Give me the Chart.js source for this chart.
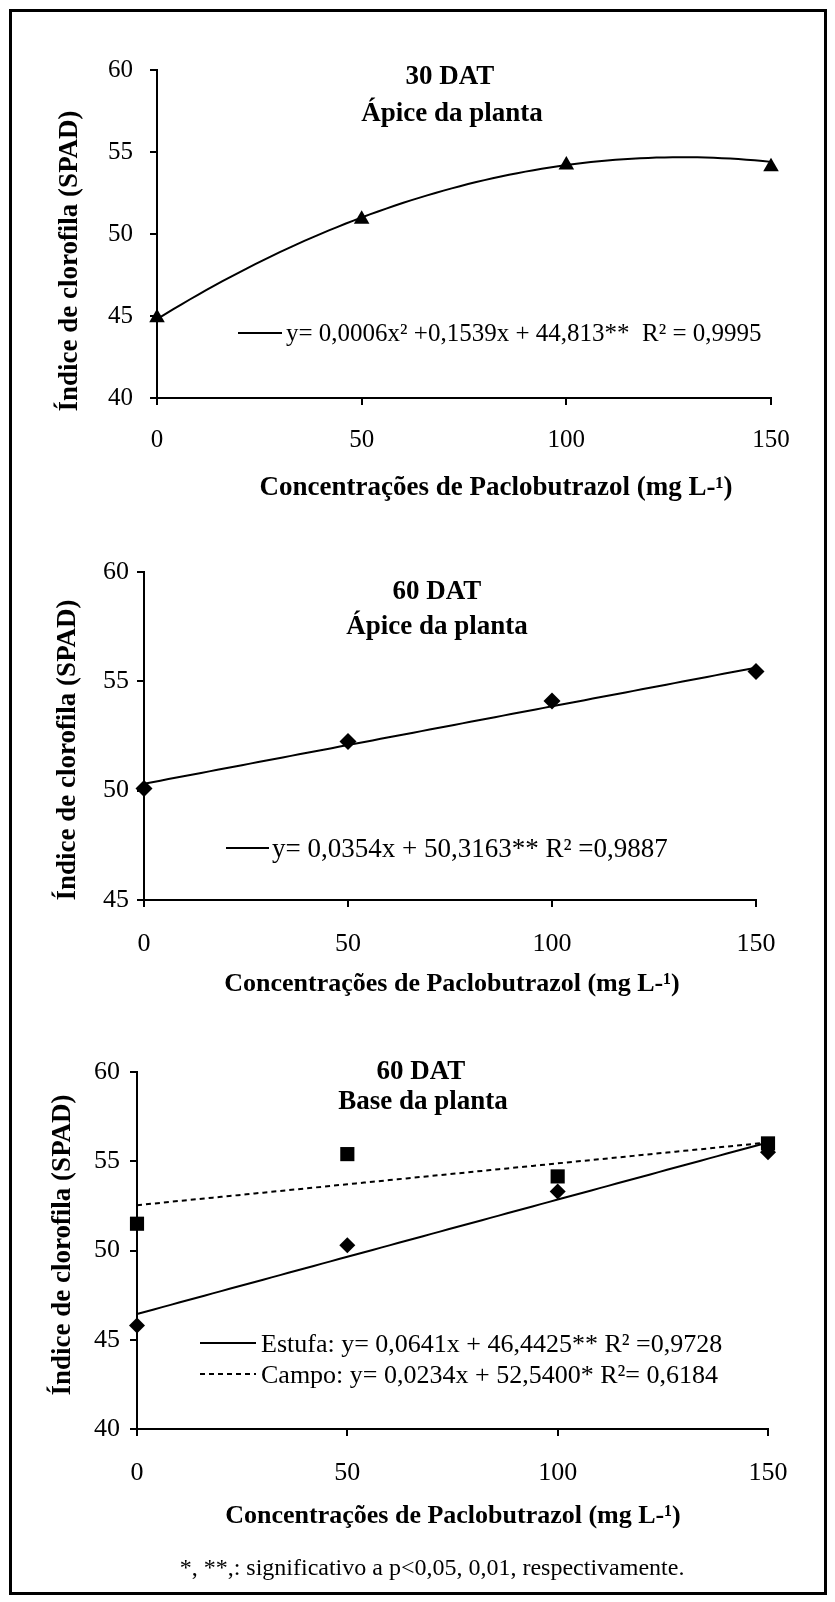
<!DOCTYPE html>
<html>
<head>
<meta charset="utf-8">
<script src="https://cdn.jsdelivr.net/npm/chart.js@4.4.1/dist/chart.umd.min.js"></script>
<style>
  html, body { margin: 0; padding: 0; background: #fff; }
  #page { position: relative; width: 835px; height: 1602px; overflow: hidden; }
  #page canvas { position: absolute; left: 0; top: 0; }
  #frame { position: absolute; left: 9px; top: 9px; width: 812px; height: 1580px; border: 3px solid #000; }
</style>
</head>
<body>
<div id="page">
  <div id="frame"></div>
  <canvas id="c1" width="835" height="1602"></canvas>
  <canvas id="c2" width="835" height="1602"></canvas>
  <canvas id="c3" width="835" height="1602"></canvas>
</div>
<script>
// Paclobutrazol doses (mg L-1)
const doses = [0, 50, 100, 150];
const xTicks = [0, 50, 100, 150];

// 30 DAT, plant apex
const apex30 = [44.9, 50.9, 54.2, 54.1];
const apex30Fit = [44.813, 0.1539, -0.0006];   // c, b, a

// 60 DAT, plant apex
const apex60 = [50.1, 52.25, 54.1, 55.45];
const apex60Fit = [50.3163, 0.0354];

// 60 DAT, plant base
const baseEstufa = [45.8, 50.3, 53.3, 55.5];
const baseCampo = [51.5, 55.4, 54.15, 56.0];
const estufaFit = [46.4425, 0.0641];
const campoFit = [52.54, 0.0234];

const serif = "'Liberation Serif', 'Times New Roman', serif";
const yTitle = 'Índice de clorofila (SPAD)';
const xTitle = 'Concentrações de Paclobutrazol (mg L-¹)';

function poly(coef, x) {
  return coef.reduce((s, c, i) => s + c * Math.pow(x, i), 0);
}

// regression curve sampled along the dose range
function fitPoints(coef) {
  const pts = [];
  for (let x = doses[0]; x <= doses[doses.length - 1]; x += 2) pts.push({ x, y: poly(coef, x) });
  return pts;
}

function pairs(values) {
  return doses.map((x, i) => ({ x, y: values[i] }));
}

function fitSet(coef, dash) {
  return {
    data: fitPoints(coef), showLine: true, pointRadius: 0, borderColor: '#000',
    borderWidth: 2, borderDash: dash || [], clip: false, order: 2
  };
}

function markSet(values, style, radius) {
  return {
    data: pairs(values), showLine: false, pointStyle: style, pointRadius: radius,
    backgroundColor: '#000', borderColor: '#000', borderWidth: 0, clip: false, order: 1
  };
}

// free text and legend keys drawn on top of the chart
const notesPlugin = {
  id: 'notes',
  afterDraw(chart, args, opts) {
    const ctx = chart.ctx;
    ctx.save();
    ctx.strokeStyle = '#000';
    ctx.fillStyle = '#000';
    (opts.keys || []).forEach(k => {
      ctx.lineWidth = 2;
      ctx.setLineDash(k.dash || []);
      ctx.beginPath();
      ctx.moveTo(k.x1, k.y);
      ctx.lineTo(k.x2, k.y);
      ctx.stroke();
    });
    ctx.setLineDash([]);
    (opts.texts || []).forEach(t => {
      ctx.save();
      ctx.translate(t.x, t.y);
      if (t.rotate) ctx.rotate(t.rotate);
      ctx.font = (t.bold ? 'bold ' : '') + t.size + 'px ' + serif;
      ctx.textAlign = t.align || 'center';
      ctx.textBaseline = 'alphabetic';
      ctx.fillText(t.text, 0, t.size * 0.33);
      ctx.restore();
    });
    ctx.restore();
  }
};

function makeChart(id, o) {
  const grid = { drawOnChartArea: false, drawTicks: true, tickLength: 7, lineWidth: 2, color: '#000' };
  const border = { display: true, width: 2, color: '#000' };
  return new Chart(document.getElementById(id), {
    type: 'scatter',
    data: { datasets: o.datasets },
    options: {
      responsive: false,
      animation: false,
      devicePixelRatio: 1,
      events: [],
      layout: { padding: o.pad },
      plugins: { legend: { display: false }, tooltip: { enabled: false }, notes: o.notes },
      scales: {
        x: {
          type: 'linear', min: 0, max: 150,
          afterBuildTicks: s => { s.ticks = xTicks.map(v => ({ value: v })); },
          afterFit: s => { s.height = 80; },
          grid, border,
          ticks: { color: '#000', font: { family: serif, size: o.tickSize }, padding: o.xPad, maxRotation: 0 }
        },
        y: {
          type: 'linear', min: o.yMin, max: 60,
          afterFit: s => { s.width = 60; },
          grid, border,
          ticks: { stepSize: 5, color: '#000', font: { family: serif, size: o.tickSize }, padding: o.yPad }
        }
      }
    },
    plugins: [notesPlugin]
  });
}

makeChart('c1', {
  yMin: 40, tickSize: 25, xPad: 20, yPad: 17,
  pad: { left: 97, right: 64, top: 70, bottom: 1124 },
  datasets: [fitSet(apex30Fit), markSet(apex30, 'triangle', 9)],
  notes: {
    keys: [{ x1: 238, x2: 282, y: 333 }],
    texts: [
      { text: '30 DAT', x: 450, y: 75, size: 27, bold: true },
      { text: 'Ápice da planta', x: 452, y: 112, size: 27, bold: true },
      { text: 'y= 0,0006x² +0,1539x + 44,813**  R² = 0,9995', x: 286, y: 333, size: 25, align: 'left' },
      { text: xTitle, x: 496, y: 486, size: 27, bold: true },
      { text: yTitle, x: 68, y: 261, size: 27, bold: true, rotate: -Math.PI / 2 }
    ]
  }
});

makeChart('c2', {
  yMin: 45, tickSize: 26, xPad: 22, yPad: 8,
  pad: { left: 84, right: 79, top: 572, bottom: 622 },
  datasets: [fitSet(apex60Fit), markSet(apex60, 'rectRot', 8.5)],
  notes: {
    keys: [{ x1: 226, x2: 269, y: 848 }],
    texts: [
      { text: '60 DAT', x: 437, y: 590, size: 27, bold: true },
      { text: 'Ápice da planta', x: 437, y: 625, size: 27, bold: true },
      { text: 'y= 0,0354x + 50,3163** R² =0,9887', x: 272, y: 848, size: 27, align: 'left' },
      { text: xTitle, x: 452, y: 982, size: 26, bold: true },
      { text: yTitle, x: 66, y: 750, size: 27, bold: true, rotate: -Math.PI / 2 }
    ]
  }
});

makeChart('c3', {
  yMin: 40, tickSize: 26, xPad: 22, yPad: 10,
  pad: { left: 77, right: 67, top: 1072, bottom: 93 },
  datasets: [
    fitSet(estufaFit), fitSet(campoFit, [5, 4]),
    markSet(baseEstufa, 'rectRot', 8), markSet(baseCampo, 'rect', 10)
  ],
  notes: {
    keys: [{ x1: 200, x2: 256, y: 1343 }, { x1: 200, x2: 256, y: 1374, dash: [5, 4] }],
    texts: [
      { text: '60 DAT', x: 421, y: 1070, size: 27, bold: true },
      { text: 'Base da planta', x: 423, y: 1100, size: 27, bold: true },
      { text: 'Estufa: y= 0,0641x + 46,4425** R² =0,9728', x: 261, y: 1343, size: 26, align: 'left' },
      { text: 'Campo: y= 0,0234x + 52,5400* R²= 0,6184', x: 261, y: 1374, size: 26, align: 'left' },
      { text: xTitle, x: 453, y: 1514, size: 26, bold: true },
      { text: yTitle, x: 61, y: 1245, size: 27, bold: true, rotate: -Math.PI / 2 },
      { text: '*, **,: significativo a p<0,05, 0,01, respectivamente.', x: 432, y: 1567, size: 24 }
    ]
  }
});
</script>
</body>
</html>
